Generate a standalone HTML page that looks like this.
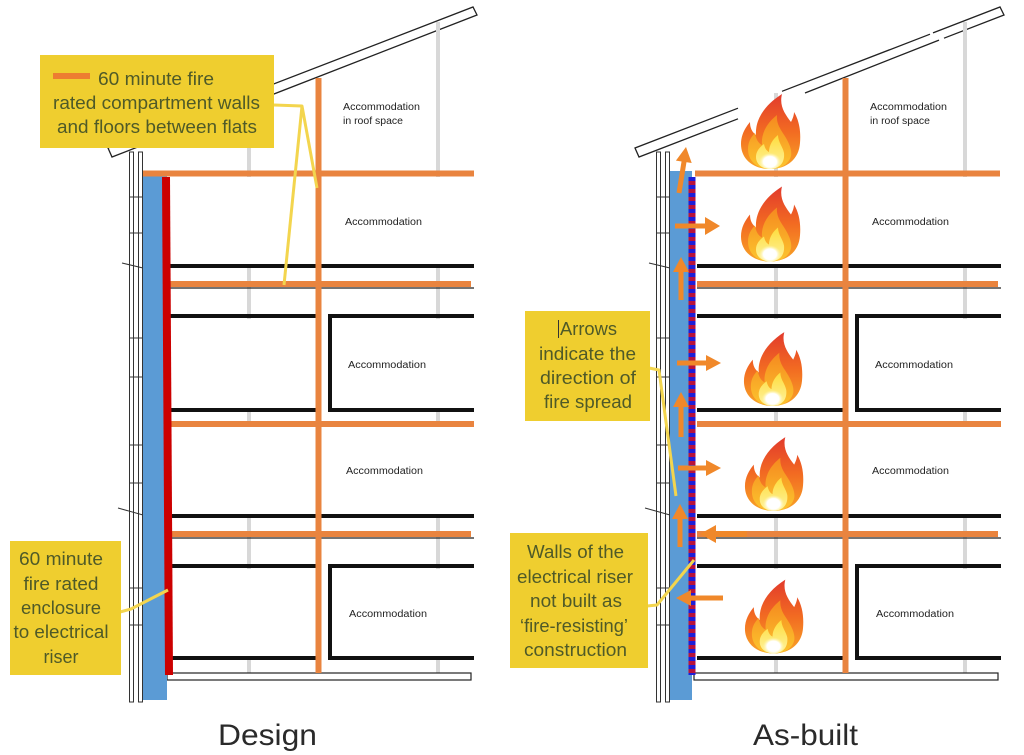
<!DOCTYPE html>
<html><head><meta charset="utf-8"><style>
html,body{margin:0;padding:0;background:#fff;}
svg{display:block;}
</style></head><body>
<svg width="1024" height="755" viewBox="0 0 1024 755" xmlns="http://www.w3.org/2000/svg">
<defs>
  <linearGradient id="gO" x1="0" y1="0" x2="0" y2="1">
    <stop offset="0" stop-color="#e23a2c"/><stop offset="0.5" stop-color="#f26b22"/><stop offset="1" stop-color="#f8a326"/>
  </linearGradient>
  <linearGradient id="gM" x1="0" y1="0" x2="0" y2="1">
    <stop offset="0" stop-color="#f5891f"/><stop offset="1" stop-color="#fcc52e"/>
  </linearGradient>
  <linearGradient id="gI" x1="0" y1="0" x2="0" y2="1">
    <stop offset="0" stop-color="#fddc3c"/><stop offset="1" stop-color="#fff3a0"/>
  </linearGradient>
  <radialGradient id="gW" cx="0.5" cy="0.6" r="0.5">
    <stop offset="0" stop-color="#ffffff"/><stop offset="0.6" stop-color="#ffffff"/><stop offset="1" stop-color="#fff6b0" stop-opacity="0"/>
  </radialGradient>
  <symbol id="flame" viewBox="0 0 64 76">
    <path d="M32 76 C15 76 3 66 3 51 C3 42 7 35 12 29 C12 35 14 39 18 42 C17 28 25 13 44 1 C41 13 47 21 53 29 C55 25 56 22 56 19 C61 27 63 38 62 50 C61 66 49 76 32 76 Z" fill="url(#gO)"/>
    <path d="M32 76 C19 76 10 68 10 56 C10 49 13 44 17 40 C18 46 20 50 24 52 C23 40 29 30 39 22 C38 32 44 38 48 45 C52 52 54 58 53 63 C51 71 43 76 32 76 Z" fill="url(#gM)"/>
    <path d="M32 76 C24 76 18 71 18 64 C18 58 22 54 26 51 C27 56 29 58 31 59 C31 52 35 46 40 42 C40 49 45 54 46 60 C47 70 41 76 32 76 Z" fill="url(#gI)"/>
    <ellipse cx="32" cy="67" rx="11" ry="9" fill="url(#gW)"/>
  </symbol>
  <g id="bldg">
    <!-- gray posts -->
    <line x1="249" y1="93" x2="249" y2="673" stroke="#d8d8d8" stroke-width="4"/>
    <line x1="438" y1="22" x2="438" y2="673" stroke="#d8d8d8" stroke-width="4"/>
    <!-- room whites -->
    <rect x="170" y="177" width="305" height="87" fill="#fff"/>
    <rect x="170" y="319" width="305" height="89" fill="#fff"/>
    <rect x="170" y="427" width="305" height="87" fill="#fff"/>
    <rect x="170" y="569" width="305" height="87" fill="#fff"/>
    <!-- black floor lines -->
    <g stroke="#111" stroke-width="4" fill="none">
      <line x1="170" y1="266" x2="474" y2="266"/>
      <line x1="170" y1="316" x2="316" y2="316"/>
      <line x1="170" y1="410" x2="316" y2="410"/>
      <polyline points="474,316 330,316 330,410 474,410"/>
      <line x1="170" y1="516" x2="474" y2="516"/>
      <line x1="170" y1="566" x2="316" y2="566"/>
      <line x1="170" y1="658" x2="316" y2="658"/>
      <polyline points="474,566 330,566 330,658 474,658"/>
    </g>
    <g stroke="#222" stroke-width="1.2">
      <line x1="170" y1="288" x2="474" y2="288"/>
      <line x1="170" y1="538" x2="474" y2="538"/>
    </g>
    <!-- orange floors -->
    <g stroke="#e9843f" stroke-width="6">
      <line x1="170" y1="284" x2="471" y2="284"/>
      <line x1="170" y1="424" x2="474" y2="424"/>
      <line x1="170" y1="534" x2="471" y2="534"/>
    </g>
    <!-- bottom slab -->
    <rect x="167" y="673" width="304" height="7" fill="#fff" stroke="#222" stroke-width="1.2"/>
    <!-- orange vertical wall -->
    <rect x="315.5" y="78" width="6" height="595" fill="#e9843f"/>
    <!-- exterior wall -->
    <rect x="129.5" y="152" width="4" height="550" fill="#fff" stroke="#333" stroke-width="1"/>
    <rect x="138.5" y="152" width="4" height="550" fill="#fff" stroke="#333" stroke-width="1"/>
    <g stroke="#333" stroke-width="1">
      <line x1="129" y1="197" x2="143" y2="197"/>
      <line x1="129" y1="233" x2="143" y2="233"/>
      <line x1="129" y1="338" x2="143" y2="338"/>
      <line x1="129" y1="377" x2="143" y2="377"/>
      <line x1="129" y1="445" x2="143" y2="445"/>
      <line x1="129" y1="483" x2="143" y2="483"/>
      <line x1="129" y1="588" x2="143" y2="588"/>
      <line x1="129" y1="625" x2="143" y2="625"/>
      <line x1="122" y1="263" x2="143" y2="268"/>
      <line x1="118" y1="508" x2="143" y2="515"/>
    </g>
  </g>
</defs>

<rect width="1024" height="755" fill="#fff"/>

<!-- ============ LEFT: DESIGN ============ -->
<polygon points="108,148 473,7 477,15 112,157" fill="#fff" stroke="#222" stroke-width="1.3"/>
<use href="#bldg"/>
<rect x="143" y="176" width="24" height="524" fill="#5b9bd5"/>
<polygon points="162,177 170,177 173,675 165,675" fill="#cc0000"/>
<line x1="143" y1="173.5" x2="474" y2="173.5" stroke="#e9843f" stroke-width="6"/>

<g font-family="Liberation Sans, sans-serif" font-size="10" fill="#222">
  <text x="343" y="110" textLength="77" lengthAdjust="spacingAndGlyphs">Accommodation</text>
  <text x="343" y="124" textLength="60" lengthAdjust="spacingAndGlyphs">in roof space</text>
  <text x="345" y="225" textLength="77" lengthAdjust="spacingAndGlyphs">Accommodation</text>
  <text x="348" y="368" textLength="78" lengthAdjust="spacingAndGlyphs">Accommodation</text>
  <text x="346" y="474" textLength="77" lengthAdjust="spacingAndGlyphs">Accommodation</text>
  <text x="349" y="617" textLength="78" lengthAdjust="spacingAndGlyphs">Accommodation</text>
</g>

<!-- leaders -->
<g stroke="#f3d54e" stroke-width="3" fill="none" stroke-linejoin="round">
  <polyline points="274,105 302,106 317,188"/>
  <line x1="302" y1="106" x2="284" y2="285"/>
  <polyline points="120,612 131,609 168,590"/>
</g>

<!-- box 1 -->
<rect x="40" y="55" width="234" height="93" fill="#efce2f"/>
<rect x="53" y="73" width="37" height="6" fill="#ed7d31"/>
<g font-family="Liberation Sans, sans-serif" font-size="18.5" fill="#4f5a28">
  <text x="98" y="85" textLength="116" lengthAdjust="spacingAndGlyphs">60 minute fire</text>
  <text x="53" y="109" textLength="207" lengthAdjust="spacingAndGlyphs">rated compartment walls</text>
  <text x="57" y="133" textLength="200" lengthAdjust="spacingAndGlyphs">and floors between flats</text>
</g>

<!-- box 2 -->
<rect x="10" y="541" width="111" height="134" fill="#efce2f"/>
<g font-family="Liberation Sans, sans-serif" font-size="18.5" fill="#4f5a28" text-anchor="middle">
  <text x="61" y="565" textLength="84" lengthAdjust="spacingAndGlyphs">60 minute</text>
  <text x="61" y="590" textLength="75" lengthAdjust="spacingAndGlyphs">fire rated</text>
  <text x="61" y="614" textLength="80" lengthAdjust="spacingAndGlyphs">enclosure</text>
  <text x="61" y="638" textLength="95" lengthAdjust="spacingAndGlyphs">to electrical</text>
  <text x="61" y="663" textLength="35" lengthAdjust="spacingAndGlyphs">riser</text>
</g>

<text x="218" y="745" font-family="Liberation Sans, sans-serif" font-size="30" fill="#2a2a2a" textLength="99" lengthAdjust="spacingAndGlyphs">Design</text>

<!-- ============ RIGHT: AS-BUILT ============ -->
<g stroke="#222" stroke-width="1.3" fill="none">
  <polyline points="738,108.2 635,148 639,157 738,118.8"/>
  <polyline points="782,91.3 930,34.2"/>
  <polyline points="933,32.9 1000,7 1004,15 944,38.2"/>
  <polyline points="939,40.1 805,93"/>
</g>
<use href="#bldg" x="527"/>
<rect x="670" y="171" width="22" height="529" fill="#5b9bd5"/>
<line x1="692" y1="177" x2="692" y2="675" stroke="#b8123c" stroke-width="7"/>
<line x1="692" y1="177" x2="692" y2="675" stroke="#1e1ed8" stroke-width="7" stroke-dasharray="4 4"/>
<line x1="695" y1="173.5" x2="1000" y2="173.5" stroke="#e9843f" stroke-width="6"/>

<g font-family="Liberation Sans, sans-serif" font-size="10" fill="#222">
  <text x="870" y="110" textLength="77" lengthAdjust="spacingAndGlyphs">Accommodation</text>
  <text x="870" y="124" textLength="60" lengthAdjust="spacingAndGlyphs">in roof space</text>
  <text x="872" y="225" textLength="77" lengthAdjust="spacingAndGlyphs">Accommodation</text>
  <text x="875" y="368" textLength="78" lengthAdjust="spacingAndGlyphs">Accommodation</text>
  <text x="872" y="474" textLength="77" lengthAdjust="spacingAndGlyphs">Accommodation</text>
  <text x="876" y="617" textLength="78" lengthAdjust="spacingAndGlyphs">Accommodation</text>
</g>

<!-- flames -->
<use href="#flame" x="738" y="93" width="64" height="76"/>
<use href="#flame" x="738" y="185" width="64" height="77"/>
<use href="#flame" x="741" y="330" width="63" height="77"/>
<use href="#flame" x="742" y="435" width="63" height="77"/>
<use href="#flame" x="742" y="578" width="63" height="76"/>

<!-- arrows -->
<g fill="#f0882a">
  <line x1="679" y1="193" x2="684.3" y2="160" stroke="#f0882a" stroke-width="5"/>
  <polygon points="675.9,160.6 686,147 691.7,163"/>
  <rect x="675" y="223.5" width="33" height="5"/>
  <polygon points="705,217 720,226 705,235"/>
  <rect x="678.5" y="270" width="5" height="30"/>
  <polygon points="673,272 681,257 689,272"/>
  <rect x="677" y="360.5" width="31" height="5"/>
  <polygon points="706,355 721,363 706,371"/>
  <rect x="678.5" y="405" width="5" height="32"/>
  <polygon points="673,407 681,392 689,407"/>
  <rect x="678" y="465.5" width="30" height="5"/>
  <polygon points="706,460 721,468 706,476"/>
  <rect x="677.5" y="517" width="5" height="30"/>
  <polygon points="672,519 680,504 688,519"/>
  <rect x="712" y="531" width="35" height="6"/>
  <polygon points="716,525 700,534 716,543"/>
  <rect x="688" y="595.5" width="35" height="5"/>
  <polygon points="691,590 676,598 691,606"/>
</g>

<!-- leaders -->
<g stroke="#f3d54e" stroke-width="3" fill="none" stroke-linejoin="round">
  <polyline points="649,368 659,370 676,496"/>
  <polyline points="647,606 657,605 694,560"/>
</g>

<!-- box 3 -->
<rect x="525" y="311" width="125" height="110" fill="#efce2f"/>
<line x1="558.5" y1="320" x2="558.5" y2="338" stroke="#333" stroke-width="1"/>
<g font-family="Liberation Sans, sans-serif" font-size="18.5" fill="#4f5a28">
  <text x="560" y="335" textLength="57" lengthAdjust="spacingAndGlyphs">Arrows</text>
  <text x="539" y="360" textLength="97" lengthAdjust="spacingAndGlyphs">indicate the</text>
  <text x="540" y="384" textLength="96" lengthAdjust="spacingAndGlyphs">direction of</text>
  <text x="544" y="408" textLength="88" lengthAdjust="spacingAndGlyphs">fire spread</text>
</g>

<!-- box 4 -->
<rect x="510" y="533" width="138" height="135" fill="#efce2f"/>
<g font-family="Liberation Sans, sans-serif" font-size="18.5" fill="#4f5a28">
  <text x="527" y="558" textLength="97" lengthAdjust="spacingAndGlyphs">Walls of the</text>
  <text x="517" y="583" textLength="116" lengthAdjust="spacingAndGlyphs">electrical riser</text>
  <text x="530" y="607" textLength="92" lengthAdjust="spacingAndGlyphs">not built as</text>
  <text x="520" y="632" textLength="108" lengthAdjust="spacingAndGlyphs">‘fire-resisting’</text>
  <text x="524" y="656" textLength="103" lengthAdjust="spacingAndGlyphs">construction</text>
</g>

<text x="753" y="745" font-family="Liberation Sans, sans-serif" font-size="30" fill="#2a2a2a" textLength="105" lengthAdjust="spacingAndGlyphs">As-built</text>
</svg>
</body></html>
